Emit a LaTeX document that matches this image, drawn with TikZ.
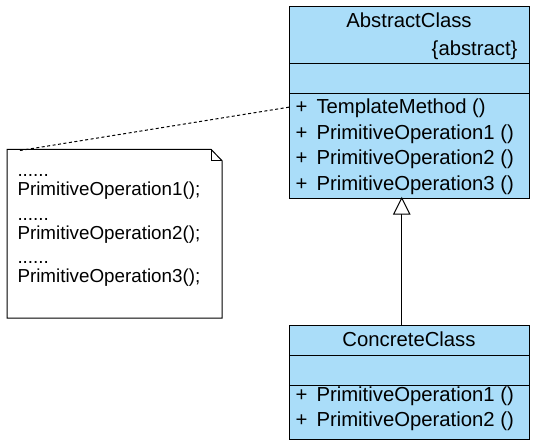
\documentclass[tikz,border=0pt]{standalone}
\usepackage{fontspec}
\setmainfont{Liberation Sans}
\definecolor{classblue}{RGB}{170,221,249}
\begin{document}
\begin{tikzpicture}[x=1pt,y=-1pt,line width=1pt,
  classbox/.style={draw=black,fill=classblue,rectangle,inner sep=0pt,anchor=north west},
  ctext/.style={inner sep=0pt,font=\fontsize{20.3}{24}\selectfont},
  ntext/.style={inner sep=0pt,anchor=base west,font=\fontsize{18.8}{22}\selectfont},
  notedash/.style={dash pattern=on 3pt off 2.5pt}]
\useasboundingbox (0,0) rectangle (542,448);
\fill[white] (0,0) rectangle (542,448);
% Abstract class
\node[classbox,minimum width=240pt,minimum height=192pt] (abs) at (289,6) {};
\draw (289,63) -- (529,63);
\draw (289,93) -- (529,93);
\node[ctext,anchor=base] (absname) at (409,27) {AbstractClass};
\node[ctext,anchor=base east] (abstag) at (518,55) {\{abstract\}};
\node[ctext,anchor=base west] (p0) at (295,113.3) {+};
\node[ctext,anchor=base west] (m0) at (316,113.3) {TemplateMethod ()};
\node[ctext,anchor=base west] (p1) at (295,139) {+};
\node[ctext,anchor=base west] (m1) at (316,139) {PrimitiveOperation1 ()};
\node[ctext,anchor=base west] (p2) at (295,164.5) {+};
\node[ctext,anchor=base west] (m2) at (316,164.5) {PrimitiveOperation2 ()};
\node[ctext,anchor=base west] (p3) at (295,190) {+};
\node[ctext,anchor=base west] (m3) at (316,190) {PrimitiveOperation3 ()};
% Concrete class
\node[classbox,minimum width=240pt,minimum height=114pt] (con) at (289,325) {};
\draw (289,355) -- (529,355);
\draw (289,385) -- (529,385);
\node[ctext,anchor=base] (conname) at (409,346) {ConcreteClass};
\node[ctext,anchor=base west] (cp1) at (295,401.5) {+};
\node[ctext,anchor=base west] (cm1) at (316,401.5) {PrimitiveOperation1 ()};
\node[ctext,anchor=base west] (cp2) at (295,426.5) {+};
\node[ctext,anchor=base west] (cm2) at (316,426.5) {PrimitiveOperation2 ()};
% Generalization
\coordinate (tip) at (401.7,198);
\coordinate (conTop) at (401.7,325);
\draw (conTop) -- (401.7,214);
\draw[fill=white] (tip) -- (409.7,214) -- (393.7,214) -- cycle;
% Note
\node[inner sep=0pt,minimum width=215pt,minimum height=169pt,anchor=north west] (note) at (7,149.3) {};
\draw[fill=white] (7,149.3) -- (211,149.3) -- (222,160.7) -- (222,318) -- (7,318) -- cycle;
\draw (211,149.3) -- (211,160.7) -- (222,160.7);
\node[ntext] (d1) at (17,176.7) {......};
\node[ntext] (n1) at (17,195) {PrimitiveOperation1();};
\node[ntext] (d2) at (17,220.7) {......};
\node[ntext] (n2) at (17,239.3) {PrimitiveOperation2();};
\node[ntext] (d3) at (17,263.3) {......};
\node[ntext] (n3) at (17,282.7) {PrimitiveOperation3();};
% Note link
\coordinate (noteEnd) at (20,150.5);
\coordinate (tmEnd) at (290,107);
\draw[notedash] (noteEnd) -- (tmEnd);
\end{tikzpicture}
\end{document}
